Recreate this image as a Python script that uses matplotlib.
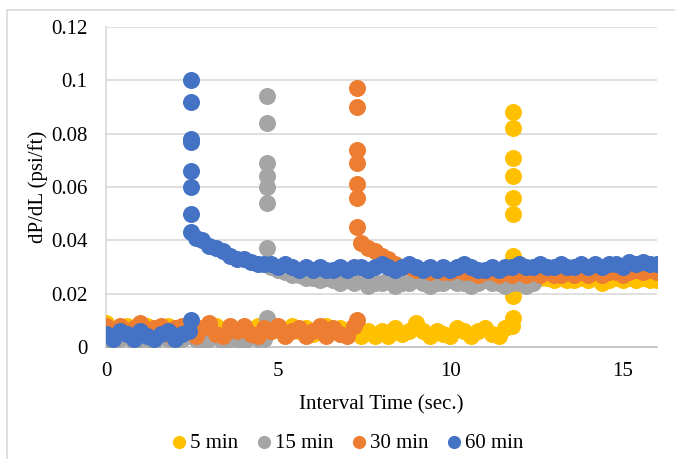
import numpy as np
import matplotlib
matplotlib.use("Agg")
import matplotlib.pyplot as plt
from matplotlib.patches import Rectangle

plt.rcParams['font.family'] = ['Liberation Serif', 'DejaVu Serif']

# sample times (s), shared by all four runs
time_s = [
    0.0, 0.2, 0.4, 0.6, 0.8, 1.0, 1.2, 1.4, 1.6, 1.8,
    2.0, 2.2, 2.4, 2.6, 2.8, 3.0, 3.2, 3.4, 3.6, 3.8,
    4.0, 4.2, 4.4, 4.6, 4.8, 5.0, 5.2, 5.4, 5.6, 5.8,
    6.0, 6.2, 6.4, 6.6, 6.8, 7.0, 7.2, 7.4, 7.6, 7.8,
    8.0, 8.2, 8.4, 8.6, 8.8, 9.0, 9.2, 9.4, 9.6, 9.8,
    10.0, 10.2, 10.4, 10.6, 10.8, 11.0, 11.2, 11.4, 11.6, 11.8,
    12.0, 12.2, 12.4, 12.6, 12.8, 13.0, 13.2, 13.4, 13.6, 13.8,
    14.0, 14.2, 14.4, 14.6, 14.8, 15.0, 15.2, 15.4, 15.6, 15.8,
    16.0,
]

# dP/dL (psi/ft) per run, None where the run has no reading
dpdl_5min = [
    0.009, 0.006, 0.007, 0.008, 0.005, 0.007, 0.008, 0.006, 0.005, 0.008,
    0.007, 0.005, 0.008, 0.007, 0.006, 0.007, 0.008, 0.005, 0.007, 0.006,
    0.007, 0.005, 0.008, 0.007, 0.006, 0.007, 0.005, 0.008, 0.006, 0.007,
    0.005, 0.007, 0.008, 0.006, 0.007, 0.005, 0.007, 0.004, 0.006, 0.004,
    0.006, 0.004, 0.007, 0.005, 0.006, 0.009, 0.006, 0.004, 0.006, 0.005,
    0.004, 0.007, 0.006, 0.004, 0.006, 0.007, 0.005, 0.004, 0.007, 0.008,
    0.031, 0.029, 0.027, 0.026, 0.026, 0.025, 0.026, 0.025, 0.025, 0.026,
    0.025, 0.026, 0.024, 0.025, 0.026, 0.025, 0.026, 0.025, 0.026, 0.025,
    0.025,
]
dpdl_15min = [
    0.003, 0.002, 0.003, 0.004, 0.002, 0.003, 0.003, 0.002, 0.004, 0.003,
    0.002, 0.003, 0.004, 0.003, 0.002, 0.003, 0.004, 0.002, 0.003, 0.003,
    0.002, 0.004, 0.003, 0.003, 0.030, 0.029, 0.028, 0.027, 0.027, 0.026,
    0.026, 0.025, 0.026, 0.025, 0.024, 0.025, 0.024, 0.025, 0.023, 0.024,
    0.024, 0.025, 0.023, 0.024, 0.024, 0.025, 0.024, 0.023, 0.024, 0.024,
    0.025, 0.024, 0.024, 0.023, 0.024, 0.025, 0.024, 0.024, 0.023, 0.024,
    0.024, 0.023, 0.024, None, None, None, None, None, None, None,
    None, None, None, None, None, None, None, None, None, None,
    None,
]
dpdl_30min = [
    0.008, 0.005, 0.008, 0.006, 0.007, 0.009, 0.005, 0.007, 0.008, 0.005,
    0.007, 0.008, 0.006, 0.004, 0.007, 0.009, 0.005, 0.004, 0.008, 0.006,
    0.008, 0.005, 0.004, 0.007, 0.006, 0.008, 0.004, 0.006, 0.007, 0.004,
    0.006, 0.008, 0.004, 0.007, 0.005, 0.004, 0.008, 0.039, 0.037, 0.036,
    0.034, 0.033, 0.031, 0.030, 0.030, 0.029, 0.029, 0.028, 0.029, 0.028,
    0.028, 0.029, 0.028, 0.028, 0.027, 0.028, 0.028, 0.027, 0.028, 0.027,
    0.028, 0.027, 0.028, 0.027, 0.028, 0.027, 0.027, 0.028, 0.027, 0.028,
    0.027, 0.028, 0.027, 0.028, 0.028, 0.027, 0.028, 0.029, 0.028, 0.029,
    0.028,
]
dpdl_60min = [
    0.005, 0.003, 0.006, 0.005, 0.003, 0.006, 0.004, 0.003, 0.005, 0.006,
    0.003, 0.005, 0.006, 0.041, 0.040, 0.038, 0.037, 0.036, 0.034, 0.033,
    0.033, 0.032, 0.031, 0.031, 0.031, 0.030, 0.031, 0.030, 0.029, 0.030,
    0.029, 0.030, 0.029, 0.029, 0.030, 0.029, 0.030, 0.030, 0.029, 0.030,
    0.031, 0.030, 0.029, 0.030, 0.031, 0.030, 0.029, 0.030, 0.029, 0.030,
    0.029, 0.030, 0.031, 0.030, 0.029, 0.029, 0.030, 0.029, 0.030, 0.030,
    0.031, 0.030, 0.030, 0.031, 0.030, 0.030, 0.031, 0.030, 0.030, 0.031,
    0.030, 0.031, 0.030, 0.031, 0.031, 0.030, 0.032, 0.031, 0.032, 0.031,
    0.031,
]

# pressure surge when the pump starts: several readings at one instant
surge_t = {'5 min': 11.83, '15 min': 4.68, '30 min': 7.30, '60 min': 2.47}
surge_5min = [0.088, 0.082, 0.071, 0.064, 0.056, 0.050, 0.034, 0.019, 0.011]
surge_15min = [0.094, 0.084, 0.069, 0.064, 0.060, 0.054, 0.037, 0.011]
surge_30min = [0.097, 0.090, 0.074, 0.069, 0.061, 0.056, 0.045, 0.010]
surge_60min = [0.100, 0.092, 0.078, 0.077, 0.066, 0.060, 0.050, 0.043, 0.010]

runs = [
    ('5 min', dpdl_5min, surge_5min, '#FFC000'),
    ('15 min', dpdl_15min, surge_15min, '#A5A5A5'),
    ('30 min', dpdl_30min, surge_30min, '#ED7D31'),
    ('60 min', dpdl_60min, surge_60min, '#4472C4'),
]

FS = 15

fig = plt.figure(figsize=(6.75, 4.59), dpi=100)
ax = fig.add_axes([106/675, 1 - 347/459, 551/675, 320/459])

t = np.array(time_s, dtype=float)
for name, vals, surge, col in runs:
    v = np.array(vals, dtype=float)
    xs = np.concatenate([t, np.full(len(surge), surge_t[name])])
    ys = np.concatenate([v, surge])
    ax.scatter(xs, ys, s=150, color=col, linewidths=0, label=name, zorder=3)

ax.set_xlim(0, 16)
ax.set_ylim(0, 0.12)
ax.set_xticks([0, 5, 10, 15])
ax.set_yticks([0, 0.02, 0.04, 0.06, 0.08, 0.1, 0.12])
ax.set_yticklabels(['0', '0.02', '0.04', '0.06', '0.08', '0.1', '0.12'])
ax.tick_params(length=0, labelsize=FS)
ax.tick_params(axis='y', pad=13.5)
ax.tick_params(axis='x', pad=11)
ax.grid(axis='y', color='#d9d9d9', linewidth=1.2, zorder=0)
ax.set_axisbelow(True)
for side in ['top', 'right']:
    ax.spines[side].set_visible(False)
ax.spines['left'].set_color('#d9d9d9')
ax.spines['bottom'].set_color('#bfbfbf')
ax.spines['left'].set_linewidth(1.2)
ax.spines['bottom'].set_linewidth(1.2)

ax.set_xlabel('Interval Time (sec.)', fontsize=FS)
ax.set_ylabel('dP/dL (psi/ft)', fontsize=FS)
ax.xaxis.set_label_coords(0.5, -(405 - 347) / 320, transform=ax.transAxes)
ax.yaxis.set_label_coords(-(106 - 38) / 551, 0.5, transform=ax.transAxes)
ax.xaxis.label.set_va('center')
ax.yaxis.label.set_va('center')

leg = ax.legend(loc='center', bbox_to_anchor=(348/675, 1 - 443/459),
                bbox_transform=fig.transFigure, ncol=4, frameon=False,
                fontsize=FS, handlelength=0.65, handletextpad=0.2,
                columnspacing=0.9, scatterpoints=1,
                borderpad=0, borderaxespad=0)
for h in leg.legend_handles:
    h.set_sizes([90])

# chart area outline
fig.add_artist(Rectangle((7/675, -0.1), 1.2, 1 - 10/459 + 0.1,
                         transform=fig.transFigure, fill=False,
                         edgecolor='#d9d9d9', linewidth=1.2))

fig.savefig('out.png', dpi=100)
